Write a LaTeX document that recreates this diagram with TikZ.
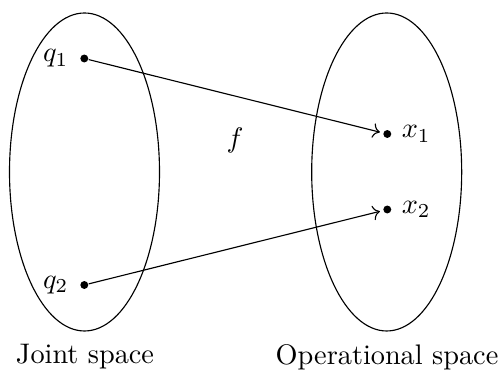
\documentclass[tikz,border=0pt]{standalone}
\usepackage{amsmath}
\usetikzlibrary{arrows.meta, positioning}
\tikzset{
  dotnode/.style={circle, fill=black, inner sep=0pt, minimum size=2.8pt},
  maparrow/.style={->, shorten >=1.1pt},
  spacelabel/.style={font=\normalsize}
}
\begin{document}
\begin{tikzpicture}[x=0.3535pt, y=-0.3535pt]
    \useasboundingbox (0,0) rectangle (499,378);

    % --- JOINT SPACE ---
    \draw (84.5,172) ellipse [x radius=75, y radius=159];
    \node[dotnode, label={[label distance=0.5pt]left:$q_1$}] (q1) at (84.3,58.5) {};
    \node[dotnode, label={[label distance=0.5pt]left:$q_2$}] (q2) at (84.3,285) {};
    \node[spacelabel] (joint) at (85,357) {Joint space};

    % --- OPERATIONAL SPACE ---
    \draw (386.7,172) ellipse [x radius=75, y radius=159];
    \node[dotnode, label=right:$x_1$] (x1) at (387.3,134) {};
    \node[dotnode, label=right:$x_2$] (x2) at (387.3,209.5) {};
    \node[spacelabel] (oper) at (387,357) {Operational space};

    % --- MAPPING ---
    \node (fmap) at (235,140) {$f$};
    \draw[maparrow] (q1) -- (x1);
    \draw[maparrow] (q2) -- (x2);
\end{tikzpicture}
\end{document}
